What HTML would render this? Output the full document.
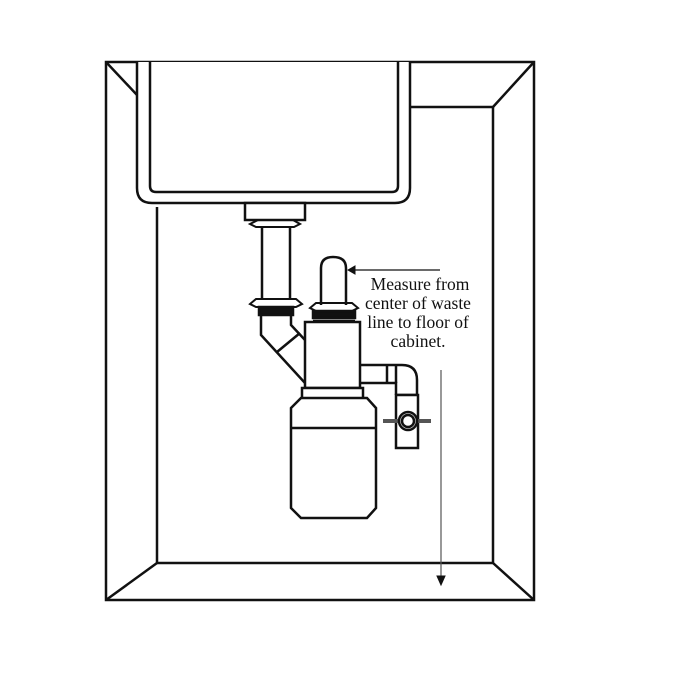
<!DOCTYPE html>
<html><head><style>
html,body{margin:0;padding:0;background:#fff;}
svg{display:block}
</style></head><body>
<svg width="700" height="700" viewBox="0 0 700 700" xmlns="http://www.w3.org/2000/svg">
<g fill="none" stroke="#111" stroke-width="2.5">
<rect x="106" y="62" width="428" height="538"/>
<line x1="106" y1="62" x2="137" y2="95"/>
<line x1="534" y1="62" x2="493" y2="107"/>
<line x1="410" y1="107" x2="493" y2="107"/>
<line x1="493" y1="107" x2="493" y2="563"/>
<line x1="157" y1="207" x2="157" y2="563"/>
<line x1="157" y1="563" x2="493" y2="563"/>
<line x1="157" y1="563" x2="106" y2="600"/>
<line x1="493" y1="563" x2="534" y2="600"/>
<path d="M137 62 V188 Q137 203 152 203 H395 Q410 203 410 188 V62" fill="#fff"/>
<path d="M150 62 V186 Q150 192 156 192 H392 Q398 192 398 186 V62"/>
<rect x="245" y="203" width="60" height="17" fill="#fff"/>
<path d="M250 224 L258 220 H293 L300 224 L294 227 H256 Z" stroke-width="2"/>
<line x1="262" y1="227" x2="262" y2="300"/>
<line x1="290" y1="227" x2="290" y2="300"/>
<path d="M250 304 L256 299 H296 L302 304 L296 307 H256 Z" stroke-width="2"/>
<rect x="259" y="307" width="34" height="8" fill="#111"/>
<path d="M261 315 V335 L305 383"/>
<path d="M291 315 V325 L305 340"/>
<line x1="277" y1="352" x2="300" y2="333"/>
<path d="M321 305 V268 Q321 257 333 257 Q346 257 346 268 V305"/>
<path d="M352 270 H440" stroke-width="1.2"/>
<path d="M348 270 L355 266 V274 Z" fill="#111" stroke-width="1"/>
<path d="M310 308 L316 303 H352 L358 308 L352 311 H316 Z" stroke-width="2"/>
<rect x="313" y="311" width="42" height="7" fill="#111"/>
<line x1="313" y1="321" x2="355" y2="321"/>
<rect x="305" y="322" width="55" height="66" fill="#fff"/>
<rect x="302" y="388" width="61" height="12" fill="#fff"/>
<path d="M301 398 H367 L376 408 V508 L367 518 H301 L291 508 V408 Z" fill="#fff"/>
<line x1="291" y1="428" x2="376" y2="428"/>
<path d="M360 365 H402 Q417 365 417 380 V395"/>
<path d="M360 383 H396 V395"/>
<line x1="387" y1="365" x2="387" y2="383"/>
<line x1="396" y1="365" x2="396" y2="383"/>
<line x1="396" y1="395" x2="417" y2="395"/>
<rect x="396" y="395" width="22" height="53" fill="#fff"/>
<line x1="383" y1="421" x2="431" y2="421" stroke-width="4" stroke="#555"/>
<circle cx="408" cy="421" r="9" fill="#fff"/>
<circle cx="408" cy="421" r="6"/>
<line x1="441" y1="370" x2="441" y2="580" stroke-width="1.2" stroke="#555"/>
<path d="M437 576 L445 576 L441 585 Z" fill="#111" stroke-width="1"/>
</g>
<g font-family="'Liberation Serif',serif" font-size="17.5" fill="#111" text-anchor="middle">
<text x="420" y="290">Measure from</text>
<text x="418" y="309">center of waste</text>
<text x="418" y="328">line to floor of</text>
<text x="418" y="347">cabinet.</text>
</g>
</svg>
</body></html>
